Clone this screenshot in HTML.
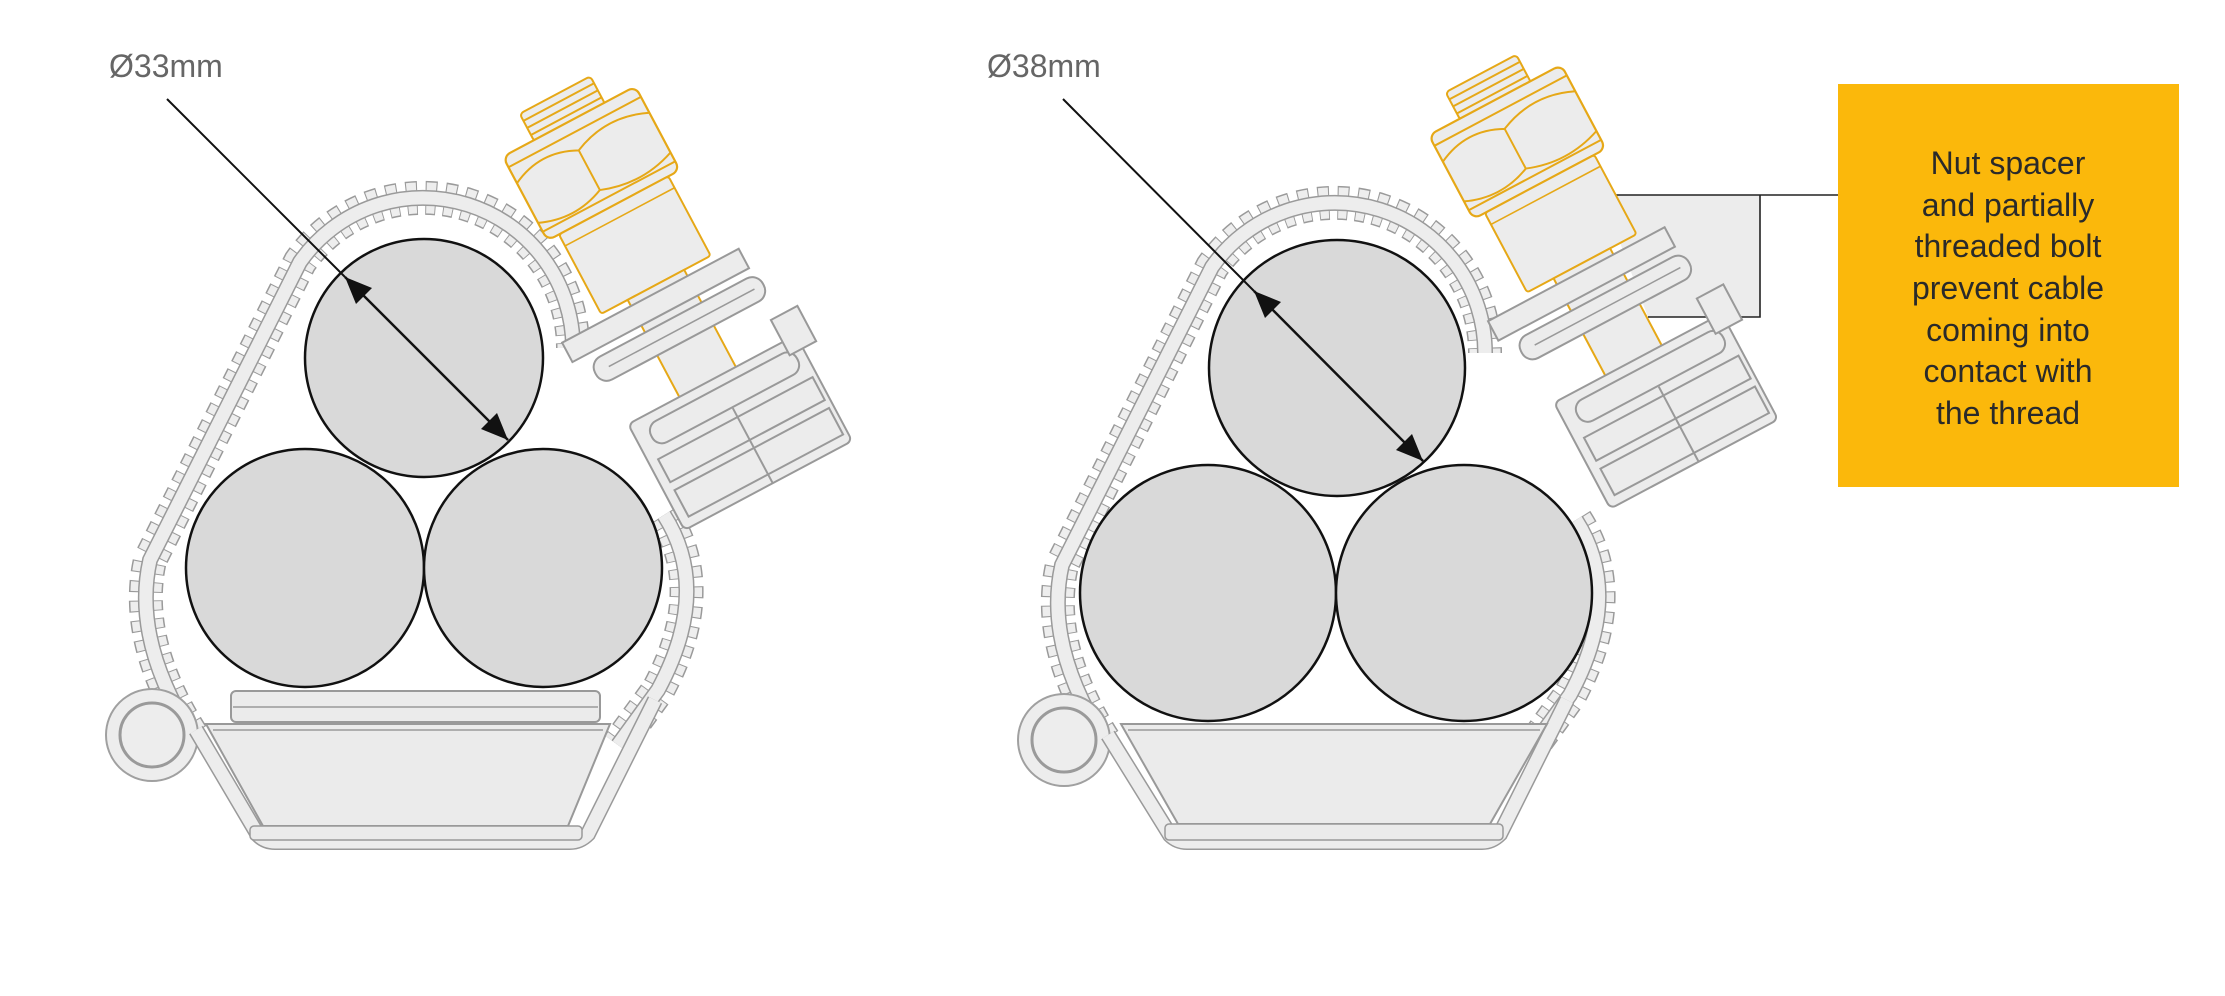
<!DOCTYPE html>
<html><head><meta charset="utf-8"><style>
html,body{margin:0;padding:0;background:#fff;}
svg{display:block;}
</style></head><body>
<svg width="2225" height="996" viewBox="0 0 2225 996" xmlns="http://www.w3.org/2000/svg" font-family="Liberation Sans, sans-serif">
<defs>
<g id="bolt">
  <rect x="-40" y="0" width="80" height="32" rx="4" fill="#ececec" stroke="#e6a817" stroke-width="2"/>
  <line x1="-40" y1="8" x2="40" y2="8" stroke="#e6a817" stroke-width="2"/>
  <line x1="-40" y1="16" x2="40" y2="16" stroke="#e6a817" stroke-width="2"/>
  <line x1="-40" y1="24" x2="40" y2="24" stroke="#e6a817" stroke-width="2"/>
  <rect x="-75" y="30" width="150" height="95" rx="8" fill="#ececec" stroke="#e6a817" stroke-width="2.2"/>
  <line x1="-75" y1="42" x2="75" y2="42" stroke="#e6a817" stroke-width="2"/>
  <line x1="-75" y1="115" x2="75" y2="115" stroke="#e6a817" stroke-width="2"/>
  <path d="M-75,60 Q-40,42 -5,60 L-5,105 Q-40,120 -75,105 M-5,60 Q35,42 75,60 M-5,105 Q35,120 75,105" fill="none" stroke="#e6a817" stroke-width="2"/>
  <rect x="-62" y="125" width="124" height="90" rx="3" fill="#ececec" stroke="#e6a817" stroke-width="2"/>
  <line x1="-62" y1="138" x2="62" y2="138" stroke="#e6a817" stroke-width="1.6"/>
  <rect x="-32" y="215" width="64" height="115" fill="#ececec" stroke="#e6a817" stroke-width="2"/>
  <rect x="-110" y="222" width="200" height="22" fill="#ececec" stroke="#999" stroke-width="2"/>
  <rect x="-95" y="252" width="190" height="26" rx="12" fill="#ececec" stroke="#999" stroke-width="2"/>
  <line x1="-80" y1="265" x2="85" y2="265" stroke="#999" stroke-width="1.5"/>
  <rect x="-90" y="325" width="190" height="120" rx="6" fill="#ececec" stroke="#999" stroke-width="2"/>
  <rect x="-75" y="335" width="165" height="24" rx="11" fill="none" stroke="#999" stroke-width="2"/>
  <rect x="-80" y="370" width="175" height="26" fill="none" stroke="#999" stroke-width="2"/>
  <rect x="-80" y="405" width="175" height="30" fill="none" stroke="#999" stroke-width="2"/>
  <line x1="10" y1="360" x2="10" y2="445" stroke="#999" stroke-width="2"/>
  <rect x="85" y="300" width="30" height="40" fill="#ececec" stroke="#999" stroke-width="2"/>
</g>
<g id="ringL">
  <path d="M192,735 Q132,640 150,560 L300,262 A150 150 0 0 1 573,348" fill="none" stroke="#9a9a9a" stroke-width="34" stroke-dasharray="11 8"/>
  <path d="M192,735 Q132,640 150,560 L300,262 A150 150 0 0 1 573,348" fill="none" stroke="#eeeeee" stroke-width="31" stroke-dasharray="9 10" stroke-dashoffset="-1"/>
  <path d="M192,735 Q132,640 150,560 L300,262 A150 150 0 0 1 573,348" fill="none" stroke="#9a9a9a" stroke-width="16"/>
  <path d="M192,735 Q132,640 150,560 L300,262 A150 150 0 0 1 573,348" fill="none" stroke="#ededed" stroke-width="13"/>
  <path d="M664,515 Q712,590 658,690 L618,745" fill="none" stroke="#9a9a9a" stroke-width="34" stroke-dasharray="11 8"/>
  <path d="M664,515 Q712,590 658,690 L618,745" fill="none" stroke="#eeeeee" stroke-width="31" stroke-dasharray="9 10" stroke-dashoffset="-1"/>
  <path d="M664,515 Q712,590 658,690 L618,745" fill="none" stroke="#9a9a9a" stroke-width="16"/>
  <path d="M664,515 Q712,590 658,690 L618,745" fill="none" stroke="#ededed" stroke-width="13"/>
  <circle cx="152" cy="735" r="46" fill="#ededed" stroke="#a0a0a0" stroke-width="2"/>
  <circle cx="152" cy="735" r="32" fill="#ededed" stroke="#9a9a9a" stroke-width="3"/>
</g>
</defs>

<!-- ============ LEFT ============ -->
<use href="#ringL"/>
<g transform="translate(555,95) rotate(-28)"><use href="#bolt"/></g>
<path d="M196,730 L258,835 Q265,842 275,842 L570,842 Q580,842 588,834 L655,700" fill="none" stroke="#9a9a9a" stroke-width="16"/>
<path d="M196,730 L258,835 Q265,842 275,842 L570,842 Q580,842 588,834 L655,700" fill="none" stroke="#ededed" stroke-width="13"/>
<path d="M206,724 L610,724 L568,826 L263,826 Z" fill="#ebebeb" stroke="#999" stroke-width="2"/>
<line x1="213" y1="730" x2="603" y2="730" stroke="#999" stroke-width="1.5"/>
<rect x="250" y="826" width="332" height="14" rx="4" fill="#ebebeb" stroke="#999" stroke-width="1.5"/>
<rect x="231" y="691" width="369" height="31" rx="5" fill="#ebebeb" stroke="#999" stroke-width="2"/>
<line x1="233" y1="707" x2="598" y2="707" stroke="#999" stroke-width="1.5"/>
<circle cx="305" cy="568" r="119" fill="#d9d9d9" stroke="#111" stroke-width="2.5"/>
<circle cx="543" cy="568" r="119" fill="#d9d9d9" stroke="#111" stroke-width="2.5"/>
<circle cx="424" cy="358" r="119" fill="#d9d9d9" stroke="#111" stroke-width="2.5"/>
<line x1="167" y1="99" x2="345" y2="277" stroke="#111" stroke-width="2"/>
<line x1="345" y1="277" x2="508" y2="440" stroke="#111" stroke-width="2.5"/>
<polygon points="345,277 372,288 356,304" fill="#111"/>
<polygon points="508,440 481,429 497,413" fill="#111"/>
<text x="109" y="77" font-size="32" fill="#666">Ø33mm</text>

<!-- ============ RIGHT ============ -->
<path d="M1602,195 L1760,195 L1760,317 L1648,317 Z" fill="#ececec"/>
<path d="M1602,195 L1838,195 M1760,195 L1760,317 L1648,317" fill="none" stroke="#222" stroke-width="1.6"/>
<g transform="translate(912,5)"><use href="#ringL"/></g>
<g transform="translate(1495,100) rotate(-28)">
  <use href="#bolt" transform="translate(0,-30)"/>
</g>
<path d="M1108,735 L1170,835 Q1177,842 1187,842 L1482,842 Q1492,842 1500,834 L1567,700" fill="none" stroke="#9a9a9a" stroke-width="16"/>
<path d="M1108,735 L1170,835 Q1177,842 1187,842 L1482,842 Q1492,842 1500,834 L1567,700" fill="none" stroke="#ededed" stroke-width="13"/>
<path d="M1121,724 L1547,724 L1490,824 L1178,824 Z" fill="#ebebeb" stroke="#999" stroke-width="2"/>
<line x1="1128" y1="730" x2="1540" y2="730" stroke="#999" stroke-width="1.5"/>
<rect x="1165" y="824" width="338" height="16" rx="4" fill="#ebebeb" stroke="#999" stroke-width="1.5"/>
<circle cx="1208" cy="593" r="128" fill="#d9d9d9" stroke="#111" stroke-width="2.5"/>
<circle cx="1464" cy="593" r="128" fill="#d9d9d9" stroke="#111" stroke-width="2.5"/>
<circle cx="1337" cy="368" r="128" fill="#d9d9d9" stroke="#111" stroke-width="2.5"/>
<line x1="1063" y1="99" x2="1254" y2="291" stroke="#111" stroke-width="2"/>
<line x1="1254" y1="291" x2="1423" y2="461" stroke="#111" stroke-width="2.5"/>
<polygon points="1254,291 1281,302 1265,318" fill="#111"/>
<polygon points="1423,461 1396,450 1412,434" fill="#111"/>
<text x="987" y="77" font-size="32" fill="#666">Ø38mm</text>

<rect x="1838" y="84" width="341" height="403" fill="#fbb80b"/>
<g font-size="32" fill="#2a2a2a" text-anchor="middle">
<text x="2008" y="174">Nut spacer</text>
<text x="2008" y="216">and partially</text>
<text x="2008" y="257">threaded bolt</text>
<text x="2008" y="299">prevent cable</text>
<text x="2008" y="341">coming into</text>
<text x="2008" y="382">contact with</text>
<text x="2008" y="424">the thread</text>
</g>
</svg>
</body></html>
